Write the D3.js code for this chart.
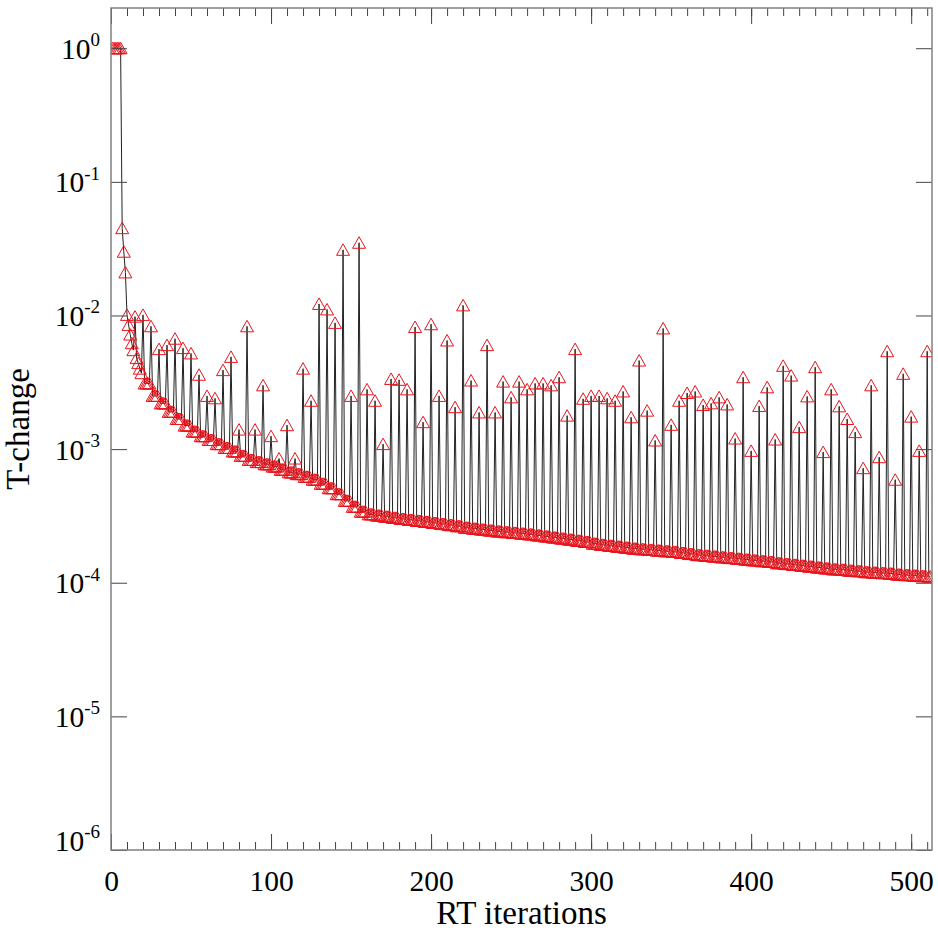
<!DOCTYPE html>
<html>
  <head>
    <meta charset="utf-8">
    <title>T-change against RT iterations</title>
    <script src="https://cdn.jsdelivr.net/npm/d3@7"></script>
    <style>
      body { margin: 0; background: #fff; }
      svg { display: block; font-family: "Liberation Serif", "Times New Roman", serif; }
    </style>
  </head>

  <body>
    <svg id="chart" width="938" height="931"></svg>

    <script>
      // data: T-change for each RT iteration
      // iterations 1-19, one value each
      early = [1.0, 1.0, 1.0, 1.0, 1.0, 1.0, 0.045, 0.030, 0.021, 0.0101,
        0.0085, 0.0072, 0.0062, 0.0055, 0.0098, 0.0048, 0.0044, 0.0040, 0.0037];

      // from iteration 20 on, every 5th iteration jumps up (20, 25, ... 510)
      spikeStart = 20;
      lastIteration = 512;
      spikes = [
        0.0101, 0.0083, 0.0056, 0.0060, 0.0067, 0.0057, 0.0052, 0.0036, 0.0025, 0.0024,
        0.0039, 0.0049, 0.0014, 0.0083, 0.0014, 0.0030, 0.00125, 0.00085, 0.00151, 0.00085,
        0.0040, 0.0023, 0.0122, 0.0111, 0.0088, 0.031, 0.0025, 0.035, 0.0028, 0.0023,
        0.00109, 0.00335, 0.0033, 0.0028, 0.0082, 0.00159, 0.0086, 0.0025, 0.0065, 0.00206,
        0.0119, 0.00326, 0.00188, 0.0060, 0.00188, 0.0032, 0.00244, 0.0032, 0.0028, 0.0031,
        0.0031, 0.0030, 0.00345, 0.00178, 0.0056, 0.00238, 0.0025, 0.0025, 0.0024, 0.0023,
        0.0027, 0.00173, 0.0046, 0.00194, 0.00116, 0.0080, 0.00152, 0.0023, 0.00263, 0.0027,
        0.00214, 0.0022, 0.00244, 0.00216, 0.0012, 0.00345, 0.00097, 0.0021, 0.0029, 0.00118,
        0.0042, 0.00355, 0.00146, 0.00248, 0.0041, 0.00095, 0.0028, 0.00209, 0.00168, 0.00134,
        0.00072, 0.0030, 0.00087, 0.0054, 0.00059, 0.00366, 0.00175, 0.00097, 0.0054
      ];
      // the four iterations after each jump sit on this floor
      floors = [
        0.0031, 0.0025, 0.0022, 0.0019, 0.00168, 0.00150, 0.00135, 0.00125, 0.00117, 0.00109,
        0.00102, 0.00096, 0.00089, 0.00083, 0.00080, 0.00077, 0.00074, 0.00070, 0.00067, 0.00065,
        0.00062, 0.00059, 0.00055, 0.00051, 0.00046, 0.00041, 0.00037, 0.00034, 0.000325, 0.000318,
        0.000312, 0.000306, 0.000300, 0.000295, 0.000290, 0.000285, 0.000280, 0.000275, 0.000270, 0.000265,
        0.000258, 0.000254, 0.000250, 0.000246, 0.000242, 0.000239, 0.000236, 0.000233, 0.000230, 0.000226,
        0.000222, 0.000218, 0.000214, 0.000210, 0.000206, 0.000202, 0.000196, 0.000192, 0.000189, 0.000186,
        0.000183, 0.000180, 0.000178, 0.000176, 0.000174, 0.000172, 0.000170, 0.000167, 0.000164, 0.000161,
        0.000159, 0.000157, 0.000155, 0.000153, 0.000151, 0.000149, 0.000147, 0.000145, 0.000143, 0.000140,
        0.000138, 0.000136, 0.000134, 0.000132, 0.000130, 0.000128, 0.000126, 0.000125, 0.000123, 0.000122,
        0.000120, 0.000119, 0.000118, 0.000117, 0.000115, 0.000114, 0.000113, 0.000112, 0.000111
      ];

      // axes
      xMajor = [0, 100, 200, 300, 400, 500];
      xMinor = d3.range(0, 520, 10);
      yTicks = [1e0, 1e-1, 1e-2, 1e-3, 1e-4, 1e-5, 1e-6];
      xTitle = "RT iterations";
      yTitle = "T-change";

      // series
      points = early.map(function(v, i) { return { it: i + 1, v: v }; });
      spikes.forEach(function(v, k) {
        let start = spikeStart + 5 * k;
        points.push({ it: start, v: v });
        for (let j = 1; j < 5 && start + j <= lastIteration; j++) {
          points.push({ it: start + j, v: floors[k] });
        }
      });

      // frame ("top" is taken by window, hence the plot* names)
      plotLeft = 111; plotRight = 932; plotTop = 8; plotBottom = 850;
      svg = d3.select("#chart");

      x = d3.scaleLinear()
        .domain([0, 513])
        .range([plotLeft, plotRight]);
      y = d3.scaleLog()
        .domain([1e-6, 2])
        .range([plotBottom, plotTop]);

      svg.append("clipPath")
          .attr("id", "plotClip")
        .append("rect")
          .attr("x", plotLeft)
          .attr("y", plotTop)
          .attr("width", plotRight - plotLeft)
          .attr("height", plotBottom - plotTop);

      // data
      plot = svg.append("g")
        .attr("clip-path", "url(#plotClip)");

      line = d3.line()
        .x(function(d) { return x(d.it); })
        .y(function(d) { return y(d.v); });

      plot.append("path")
        .datum(points)
        .attr("d", line)
        .attr("fill", "none")
        .attr("stroke", "#222")
        .attr("stroke-width", 1);

      plot.selectAll(".marker")
          .data(points)
        .enter().append("path")
          .classed("marker", true)
          .attr("d", "M0,-6L6.5,5.5L-6.5,5.5Z")
          .attr("transform", function(d) { return "translate(" + x(d.it) + "," + y(d.v) + ")"; })
          .attr("fill", "none")
          .attr("stroke", "#e8141c")
          .attr("stroke-width", 1);

      // ticks (pointing inwards on all four sides)
      function tidy(g) {
        g.attr("font-family", null).attr("font-size", null);
        g.select(".domain").remove();
        g.selectAll("line").attr("stroke", "#444");
      }

      svg.append("g")
        .attr("transform", "translate(0," + plotBottom + ")")
        .call(d3.axisBottom(x).tickValues(xMinor).tickSize(-8).tickFormat(""))
        .call(tidy);
      svg.append("g")
        .attr("transform", "translate(0," + plotTop + ")")
        .call(d3.axisTop(x).tickValues(xMinor).tickSize(-8).tickFormat(""))
        .call(tidy);
      svg.append("g")
        .attr("transform", "translate(0," + plotTop + ")")
        .call(d3.axisTop(x).tickValues(xMajor).tickSize(-16).tickFormat(""))
        .call(tidy);

      xAxis = svg.append("g")
        .attr("transform", "translate(0," + plotBottom + ")")
        .call(d3.axisBottom(x).tickValues(xMajor).tickSize(-16).tickFormat(d3.format("d")))
        .call(tidy);
      xAxis.selectAll("text")
        .attr("y", 41)
        .attr("dy", null)
        .attr("fill", "#000")
        .style("font-size", "29.5px");

      svg.append("g")
        .attr("transform", "translate(" + plotRight + ",0)")
        .call(d3.axisRight(y).tickValues(yTicks).tickSize(-16).tickFormat(""))
        .call(tidy);

      yAxis = svg.append("g")
        .attr("transform", "translate(" + plotLeft + ",0)")
        .call(d3.axisLeft(y).tickValues(yTicks).tickSize(-16).tickPadding(11))
        .call(tidy);
      yAxis.selectAll("text")
        .attr("dy", null)
        .attr("y", function(d) { return d == 1e-6 ? 0 : 10; })
        .attr("fill", "#000")
        .style("font-size", "29.5px")
        .text("10")
        .append("tspan")
          .attr("dy", -12.7)
          .style("font-size", "19px")
          .text(function(d) { return String(Math.round(Math.log10(d))); });

      // box
      svg.append("rect")
        .attr("x", plotLeft)
        .attr("y", plotTop)
        .attr("width", plotRight - plotLeft)
        .attr("height", plotBottom - plotTop)
        .attr("fill", "none")
        .attr("stroke", "#808080")
        .attr("stroke-width", 1.5);

      // titles
      svg.append("text")
        .attr("x", (plotLeft + plotRight) / 2)
        .attr("y", 924)
        .attr("text-anchor", "middle")
        .style("font-size", "33px")
        .text(xTitle);

      svg.append("text")
        .attr("transform", "translate(29," + (plotTop + plotBottom) / 2 + ") rotate(-90)")
        .attr("text-anchor", "middle")
        .style("font-size", "33px")
        .text(yTitle);
    </script>
  </body>
</html>
